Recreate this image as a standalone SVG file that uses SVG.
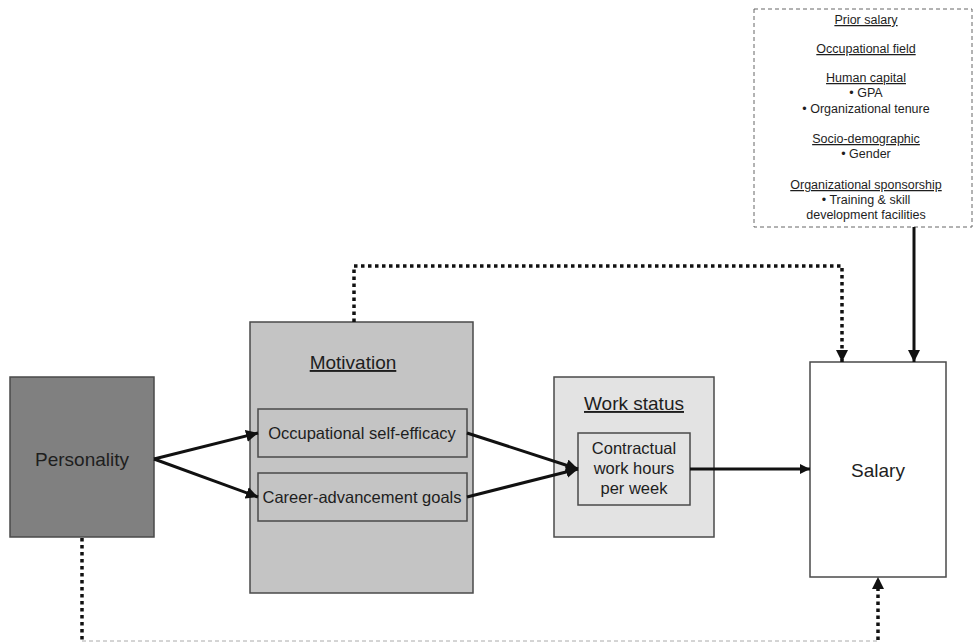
<svg xmlns="http://www.w3.org/2000/svg" width="974" height="642" viewBox="0 0 974 642">
<style>
text{font-family:"Liberation Sans",Arial,sans-serif;fill:#1e1e1e;text-anchor:middle}
.big{font-size:19px}
.mid{font-size:16.5px}
.sm{font-size:12.5px}
.u{text-decoration:underline}
.box{stroke:#4a4a4a;stroke-width:1.5}
.solid{stroke:#111;stroke-width:3;fill:none}
.dot{stroke:#111;stroke-width:3.5;fill:none;stroke-dasharray:3.5 3.5}
</style>
<defs>
<marker id="ah" viewBox="0 0 12 12" refX="12" refY="6" markerWidth="12" markerHeight="12" markerUnits="userSpaceOnUse" orient="auto">
<path d="M0,0 L12,6 L0,12 z" fill="#111"/>
</marker>
<marker id="ahs" viewBox="0 0 10 10" refX="10" refY="5" markerWidth="10" markerHeight="10" markerUnits="userSpaceOnUse" orient="auto">
<path d="M0,0 L10,5 L0,10 z" fill="#111"/>
</marker>
</defs>
<rect width="974" height="642" fill="#fff"/>
<g id="controls">
<rect x="754" y="9" width="218" height="218" fill="#fff" stroke="#666" stroke-width="1" stroke-dasharray="4 3"/>
<text class="sm u" x="866" y="24">Prior salary</text>
<text class="sm u" x="866" y="53">Occupational field</text>
<text class="sm u" x="866" y="82">Human capital</text>
<text class="sm" x="866" y="97">• GPA</text>
<text class="sm" x="866" y="113">• Organizational tenure</text>
<text class="sm u" x="866" y="143">Socio-demographic</text>
<text class="sm" x="866" y="158">• Gender</text>
<text class="sm u" x="866" y="189">Organizational sponsorship</text>
<text class="sm" x="866" y="204">• Training &amp; skill</text>
<text class="sm" x="866" y="219">development facilities</text>
</g>
<g id="personality">
<rect class="box" x="10" y="377" width="144" height="160" fill="#808080"/>
<text class="big" x="82" y="466">Personality</text>
</g>
<g id="motivation">
<rect class="box" x="250" y="322" width="223" height="271" fill="#c4c4c4"/>
<text class="big u" x="353" y="369">Motivation</text>
<g id="self-efficacy">
<rect class="box" x="258" y="409" width="209" height="48" fill="#c4c4c4"/>
<text class="mid" x="362" y="439">Occupational self-efficacy</text>
</g>
<g id="career-goals">
<rect class="box" x="258" y="473" width="209" height="48" fill="#c4c4c4"/>
<text class="mid" x="362" y="503">Career-advancement goals</text>
</g>
</g>
<g id="work-status">
<rect class="box" x="554" y="377" width="160" height="160" fill="#e3e3e3"/>
<text class="big u" x="634" y="410">Work status</text>
<g id="work-hours">
<rect class="box" x="578" y="433" width="112" height="72" fill="#e3e3e3"/>
<text class="mid" x="634" y="454">Contractual</text>
<text class="mid" x="634" y="474">work hours</text>
<text class="mid" x="634" y="494">per week</text>
</g>
</g>
<g id="salary">
<rect class="box" x="810" y="362" width="136" height="215" fill="#fff"/>
<text class="big" x="878" y="477">Salary</text>
</g>
<g id="connectors">
<line class="solid" x1="154" y1="459" x2="258" y2="433" marker-end="url(#ah)"/>
<line class="solid" x1="154" y1="459" x2="258" y2="497" marker-end="url(#ah)"/>
<line class="solid" x1="467" y1="433" x2="578" y2="469" marker-end="url(#ah)"/>
<line class="solid" x1="467" y1="497" x2="578" y2="469" marker-end="url(#ah)"/>
<line class="solid" x1="690" y1="469" x2="810" y2="469" stroke-width="2.5" marker-end="url(#ahs)"/>
<line class="solid" x1="914" y1="227" x2="914" y2="362" marker-end="url(#ah)"/>
<polyline class="dot" points="354,322 354,266 842,266 842,362" marker-end="url(#ah)"/>
<line class="dot" x1="82" y1="538" x2="82" y2="640"/>
<line x1="82" y1="641" x2="878" y2="641" stroke="#aaa" stroke-width="1" stroke-dasharray="4 3"/>
<line class="dot" x1="878" y1="640" x2="878" y2="577" marker-end="url(#ah)"/>
</g>
</svg>
